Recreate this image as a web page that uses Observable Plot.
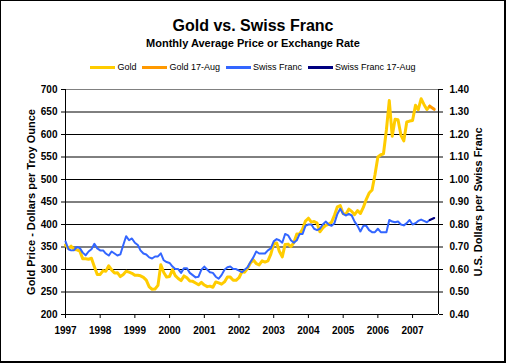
<!DOCTYPE html>
<html>
<head>
<meta charset="utf-8">
<script src="https://cdn.jsdelivr.net/npm/d3@7"></script>
<script src="https://cdn.jsdelivr.net/npm/@observablehq/plot@0.6"></script>
<style>
  body { margin: 0; background: #fff; font-family: "Liberation Sans", Arial, sans-serif; }
  #wrap { position: relative; width: 506px; height: 363px; overflow: hidden; background: #fff; }
  #border { position: absolute; left: 0; top: 0; width: 506px; height: 363px; box-sizing: border-box;
            border: 1px solid #000; border-right-width: 2px; border-bottom-width: 2px; pointer-events: none; }
  #title { position: absolute; top: 18px; left: 0; width: 506px; text-align: center;
           font-size: 16px; line-height: 16px; font-weight: bold; }
  #subtitle { position: absolute; top: 38px; left: 0; width: 506px; text-align: center;
              font-size: 11px; line-height: 11px; font-weight: bold; }
  #legend { position: absolute; top: 61px; left: 0; width: 506px; display: flex; justify-content: center;
            font-size: 9px; line-height: 12px; }
  .item { display: flex; align-items: center; margin: 0 3px; }
  .sw { width: 25px; height: 3px; margin-right: 2px; }
  #chart { position: absolute; left: 0; top: 0; }
  #chart svg text { font-weight: bold; }
</style>
</head>
<body>
<div id="wrap">
  <div id="title">Gold vs. Swiss Franc</div>
  <div id="subtitle">Monthly Average Price or Exchange Rate</div>
  <div id="legend"></div>
  <div id="chart"></div>
  <div id="border"></div>
</div>
<script>
// Monthly averages, Jan 1997 .. Jul 2007
const startMonth = "1997-01";
const goldPrices = [
  354.6, 346.6, 351.8, 344.5, 343.8, 340.8, 324.1, 324.0, 322.8, 324.9, 306.0, 288.7,
  289.1, 297.5, 295.9, 308.4, 299.1, 292.3, 292.9, 284.1, 289.0, 296.0, 294.1, 291.6,
  287.1, 287.3, 286.0, 282.6, 276.4, 261.3, 256.1, 256.7, 264.7, 310.7, 293.2, 283.1,
  284.6, 299.9, 286.4, 280.0, 275.2, 285.7, 281.6, 274.5, 273.7, 270.0, 266.0, 271.5,
  265.5, 261.9, 263.0, 260.5, 272.4, 270.2, 267.5, 272.4, 283.4, 283.1, 276.2, 275.9,
  281.7, 295.5, 294.0, 302.7, 314.5, 321.2, 313.3, 310.3, 319.2, 316.6, 319.2, 333.4,
  356.9, 359.0, 340.6, 328.2, 355.7, 356.4, 351.0, 359.8, 378.9, 378.9, 389.9, 407.6,
  414.0, 405.3, 406.7, 403.0, 383.8, 392.4, 398.1, 400.5, 405.3, 420.5, 439.4, 442.1,
  424.0, 423.4, 434.2, 429.2, 421.9, 430.7, 424.5, 437.9, 456.0, 469.9, 476.7, 510.1,
  549.9, 555.0, 557.1, 610.6, 675.4, 596.2, 633.8, 632.6, 598.2, 585.8, 627.8, 629.8,
  631.2, 664.8, 654.9, 679.4, 666.9, 655.5, 663.0
];
const francRates = [
  0.725, 0.690, 0.685, 0.686, 0.700, 0.695, 0.675, 0.663, 0.680, 0.690, 0.714, 0.694,
  0.685, 0.685, 0.671, 0.662, 0.680, 0.671, 0.662, 0.667, 0.709, 0.748, 0.730, 0.738,
  0.719, 0.709, 0.685, 0.671, 0.667, 0.654, 0.649, 0.658, 0.658, 0.672, 0.641, 0.633,
  0.629, 0.613, 0.602, 0.602, 0.585, 0.606, 0.606, 0.585, 0.575, 0.565, 0.568, 0.599,
  0.613, 0.599, 0.588, 0.585, 0.568, 0.559, 0.575, 0.599, 0.610, 0.613, 0.602, 0.602,
  0.595, 0.588, 0.599, 0.610, 0.633, 0.654, 0.680, 0.671, 0.671, 0.671, 0.685, 0.694,
  0.725, 0.735, 0.730, 0.719, 0.758, 0.752, 0.730, 0.719, 0.730, 0.758, 0.758, 0.794,
  0.800, 0.800, 0.781, 0.775, 0.781, 0.800, 0.813, 0.800, 0.794, 0.806, 0.847, 0.870,
  0.847, 0.840, 0.847, 0.840, 0.813, 0.794, 0.769, 0.794, 0.794, 0.775, 0.766, 0.766,
  0.781, 0.766, 0.766, 0.766, 0.820, 0.813, 0.810, 0.813, 0.800, 0.796, 0.806, 0.820,
  0.800, 0.806, 0.816, 0.822, 0.816, 0.810, 0.820
];
// Latest partial month (through 17-Aug-2007)
const latestDate = "2007-08-17";
const goldLatest = 656.0;
const francLatest = 0.829;

const seriesNames = ["Gold", "Gold 17-Aug", "Swiss Franc", "Swiss Franc 17-Aug"];
const seriesColors = ["#FFCC00", "#FF9900", "#3366FF", "#000080"];
const goldTicks = [200, 250, 300, 350, 400, 450, 500, 550, 600, 650, 700];
const francPerGold = 1 / 500; // right axis: 0.40 .. 1.40 over 200 .. 700
const xStart = "1997-01-01", xEnd = "2007-10-01";

const start = new Date(startMonth + "-01T00:00:00Z");
const monthDate = i => d3.utcMonth.offset(start, i);
const goldRows = goldPrices.map((v, i) => ({date: monthDate(i), v}));
const francRows = francRates.map((v, i) => ({date: monthDate(i), v}));
const lastIdx = goldPrices.length - 1;
const goldRecent = [{date: monthDate(lastIdx), v: goldPrices[lastIdx]}, {date: new Date(latestDate), v: goldLatest}];
const francRecent = [{date: monthDate(lastIdx), v: francRates[lastIdx]}, {date: new Date(latestDate), v: francLatest}];
const onGold = d => d.v / francPerGold;

// Legend
const lg = document.getElementById("legend");
seriesNames.forEach((n, i) => {
  const it = document.createElement("div"); it.className = "item";
  const sw = document.createElement("div"); sw.className = "sw"; sw.style.background = seriesColors[i];
  const tx = document.createElement("span"); tx.textContent = n;
  it.append(sw, tx); lg.append(it);
});

const axisFont = {fontWeight: "bold", fontSize: 10};
const chart = Plot.plot({
  width: 506, height: 363,
  marginLeft: 65, marginRight: 68, marginTop: 89, marginBottom: 49,
  style: {fontFamily: "'Liberation Sans', Arial, sans-serif", fontSize: "10px", background: "transparent", overflow: "visible"},
  x: {type: "utc", domain: [new Date(xStart), new Date(xEnd)]},
  y: {domain: [200, 700]},
  marks: [
    Plot.ruleY(goldTicks.slice(1, -1), {stroke: "#000", strokeWidth: 1}),
    Plot.ruleY([700], {stroke: "#808080"}),
    Plot.ruleY([200], {stroke: "#000"}),
    Plot.ruleX([new Date(xStart), new Date(xEnd)], {stroke: "#000"}),
    Plot.axisX({ticks: d3.utcYear.range(new Date("1997-01-01"), new Date("2007-12-31")), tickFormat: "%Y",
      tickSize: 4, tickPadding: 8, label: null, ...axisFont}),
    Plot.axisY({ticks: goldTicks, tickFormat: d => String(d), tickSize: 4, tickPadding: 4,
      label: "Gold Price - Dollars per Troy Ounce", labelAnchor: "center", labelArrow: "none", labelOffset: 38, ...axisFont}),
    Plot.axisY({anchor: "right", ticks: goldTicks, tickFormat: d => (d * francPerGold).toFixed(2), tickSize: 4, tickPadding: 7,
      label: "U.S. Dollars per Swiss Franc", labelAnchor: "center", labelArrow: "none", labelOffset: 43, ...axisFont}),
    Plot.line(goldRows, {x: "date", y: "v", stroke: seriesColors[0], strokeWidth: 3}),
    Plot.line(goldRecent, {x: "date", y: "v", stroke: seriesColors[1], strokeWidth: 3}),
    Plot.line(francRows, {x: "date", y: onGold, stroke: seriesColors[2], strokeWidth: 2}),
    Plot.line(francRecent, {x: "date", y: onGold, stroke: seriesColors[3], strokeWidth: 2})
  ]
});
chart.querySelectorAll("g[aria-label='y-axis label'] text, g[aria-label='y-axis label']").forEach(e => {
  e.setAttribute("font-size", "11"); e.setAttribute("font-weight", "bold");
});
document.getElementById("chart").append(chart);
</script>
</body>
</html>
